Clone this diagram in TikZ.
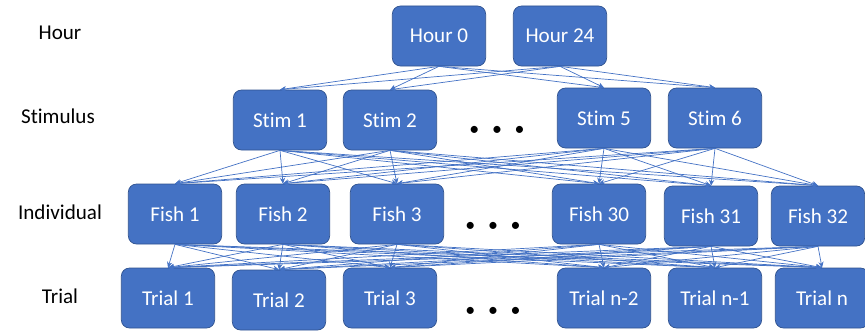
\documentclass[tikz,border=0pt]{standalone}
\usepackage{fontspec}
\setmainfont[Ligatures=NoCommon]{Carlito}
\usepackage{tikz}
\usetikzlibrary{calc,arrows.meta}
\definecolor{boxblue}{HTML}{4472C4}
\definecolor{boxedge}{HTML}{2F528F}
\tikzset{
    level/.style={
        draw=boxedge,
        line width=0.6pt,
        fill=boxblue,
        rounded corners=7pt,
        minimum width=2.8cm,
        minimum height=1.8cm,
        text=white,
        font=\fontsize{18}{20}\selectfont
    },
    levellabel/.style={
        font=\fontsize{18}{20}\selectfont
    },
    moredots/.style={
        font=\fontsize{17}{20}\selectfont
    },
    link/.style={
        draw=boxblue,
        line width=0.6pt,
        -{Stealth[length=5pt,width=4.5pt]}
    }
}

\begin{document}
\begin{tikzpicture}[x=0.03cm,y=-0.03cm]

    \useasboundingbox (0,0) rectangle (865,332);

    %% row labels
    \node (LH) [levellabel] at (60,33) {Hour};
    \node (LS) [levellabel] at (58,116) {Stimulus};
    \node (LI) [levellabel] at (60,212) {Individual};
    \node (LT) [levellabel] at (60,296) {Trial};

    %% Hour
    \node (H0) [level] at (439,36) {Hour 0};
    \node (H24) [level] at (560,36) {Hour 24};

    %% Stimulus
    \node (S1) [level] at (280,120) {Stim 1};
    \node (S2) [level] at (390,120) {Stim 2};
    \node (S5) [level] at (604,118) {Stim 5};
    \node (S6) [level] at (715,118) {Stim 6};
    \node (D1) [moredots] at (497,131) {\textbullet\hspace{0.38cm}\textbullet\hspace{0.38cm}\textbullet};

    %% Individual
    \node (F1) [level] at (175,214) {Fish 1};
    \node (F2) [level] at (283,214) {Fish 2};
    \node (F3) [level] at (397,214) {Fish 3};
    \node (F30) [level] at (599,214) {Fish 30};
    \node (F31) [level] at (711,216) {Fish 31};
    \node (F32) [level] at (818,216) {Fish 32};
    \node (D2) [moredots] at (493,227) {\textbullet\hspace{0.38cm}\textbullet\hspace{0.38cm}\textbullet};

    %% Trial
    \node (T1) [level] at (168,298) {Trial 1};
    \node (T2) [level] at (279,300) {Trial 2};
    \node (T3) [level] at (390,298) {Trial 3};
    \node (Tn2) [level] at (604,298) {Trial n-2};
    \node (Tn1) [level] at (715,298) {Trial n-1};
    \node (Tn) [level] at (822,298) {Trial n};
    \node (D3) [moredots] at (493,312) {\textbullet\hspace{0.38cm}\textbullet\hspace{0.38cm}\textbullet};

    %% every box feeds every box one row down
    \foreach \a in {H0,H24}
        \foreach \b in {S1,S2,S5,S6}
            \draw[link] (\a.south) -- (\b.north);
    \foreach \a in {S1,S2,S5,S6}
        \foreach \b in {F1,F2,F3,F30,F31,F32}
            \draw[link] (\a.south) -- (\b.north);
    \foreach \a in {F1,F2,F3,F30,F31,F32}
        \foreach \b in {T1,T2,T3,Tn2,Tn1,Tn}
            \draw[link] (\a.south) -- (\b.north);

\end{tikzpicture}
\end{document}
